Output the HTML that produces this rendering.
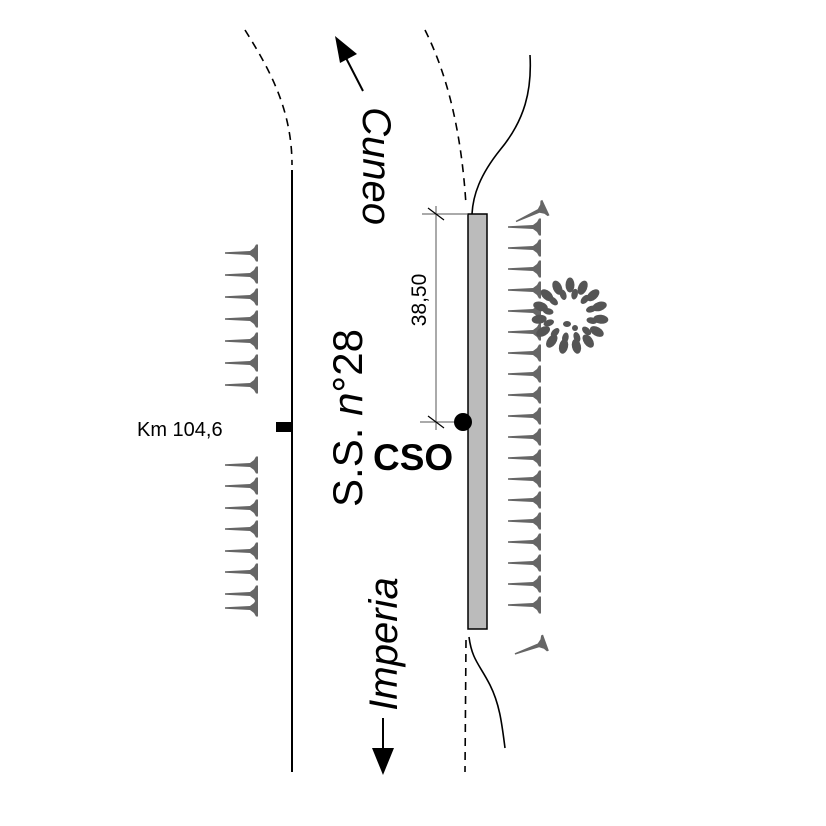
<!DOCTYPE html>
<html><head><style>body{margin:0;background:#fff}svg{display:block}</style></head><body>
<svg width="826" height="826" viewBox="0 0 826 826" xmlns="http://www.w3.org/2000/svg">
<defs>
<g id="t"><polygon points="-32,-0.7 -7,-2 -3,-5 -1,-8.5 1,-8.5 1,8.5 -1,8.5 -3,5 -7,2 -32,0.7" fill="#666"/></g>
<ellipse id="lf" cx="0" cy="-31" rx="4.5" ry="7.5" fill="#555"/>
</defs>
<path d="M245,30 C270,70 292,110 292,165" fill="none" stroke="#000" stroke-width="1.6" stroke-dasharray="8,6"/>
<line x1="292" y1="170" x2="292" y2="772" stroke="#000" stroke-width="2"/>
<path d="M425,30 C450,80 462,140 466,205" fill="none" stroke="#000" stroke-width="1.6" stroke-dasharray="8,6"/>
<line x1="466" y1="640" x2="465" y2="772" stroke="#000" stroke-width="1.6" stroke-dasharray="8,6"/>
<path d="M530,55 C532,90 525,120 500,150 C480,175 473,195 472,214" fill="none" stroke="#000" stroke-width="1.6"/>
<path d="M469,637 C472,660 480,665 490,685 C500,705 502,725 505,748" fill="none" stroke="#000" stroke-width="1.6"/>
<g>
<use href="#t" x="257" y="253"/><use href="#t" x="257" y="275"/><use href="#t" x="257" y="297"/><use href="#t" x="257" y="319"/><use href="#t" x="257" y="341"/><use href="#t" x="257" y="363"/><use href="#t" x="257" y="385"/>
<use href="#t" x="257" y="465"/><use href="#t" x="257" y="486"/><use href="#t" x="257" y="508"/><use href="#t" x="257" y="529"/><use href="#t" x="257" y="551"/><use href="#t" x="257" y="572"/><use href="#t" x="257" y="594"/><use href="#t" x="257" y="608"/>
</g>
<g>
<use href="#t" x="545" y="208" transform="rotate(-25 545 208)"/>
<use href="#t" x="540" y="227"/><use href="#t" x="540" y="248"/><use href="#t" x="540" y="269"/><use href="#t" x="540" y="290"/><use href="#t" x="540" y="311"/><use href="#t" x="540" y="332"/><use href="#t" x="540" y="353"/><use href="#t" x="540" y="374"/><use href="#t" x="540" y="395"/><use href="#t" x="540" y="416"/><use href="#t" x="540" y="437"/><use href="#t" x="540" y="458"/><use href="#t" x="540" y="479"/><use href="#t" x="540" y="500"/><use href="#t" x="540" y="521"/><use href="#t" x="540" y="542"/><use href="#t" x="540" y="563"/><use href="#t" x="540" y="584"/><use href="#t" x="540" y="605"/>
<use href="#t" x="545" y="643" transform="rotate(-20 545 643)"/>
</g>
<g transform="translate(570,316)">
<use href="#lf" transform="rotate(0)"/><use href="#lf" transform="rotate(24)"/><use href="#lf" transform="rotate(48)"/><use href="#lf" transform="rotate(72)"/><use href="#lf" transform="rotate(96)"/><use href="#lf" transform="rotate(120)"/><use href="#lf" transform="rotate(144)"/><use href="#lf" transform="rotate(168)"/><use href="#lf" transform="rotate(192)"/><use href="#lf" transform="rotate(216)"/><use href="#lf" transform="rotate(240)"/><use href="#lf" transform="rotate(264)"/><use href="#lf" transform="rotate(288)"/><use href="#lf" transform="rotate(312)"/><use href="#lf" transform="rotate(336)"/>
<g transform="scale(0.72) rotate(12)"><use href="#lf" transform="rotate(0)"/><use href="#lf" transform="rotate(30)"/><use href="#lf" transform="rotate(60)"/><use href="#lf" transform="rotate(90)"/><use href="#lf" transform="rotate(120)"/><use href="#lf" transform="rotate(150)"/><use href="#lf" transform="rotate(180)"/><use href="#lf" transform="rotate(210)"/><use href="#lf" transform="rotate(240)"/><use href="#lf" transform="rotate(270)"/><use href="#lf" transform="rotate(300)"/><use href="#lf" transform="rotate(330)"/></g>
<ellipse cx="-3" cy="8" rx="4" ry="3" fill="#555"/><ellipse cx="5" cy="12" rx="3" ry="3" fill="#555"/>
</g>
<rect x="468" y="214" width="19" height="415" fill="#bbb" stroke="#000" stroke-width="1.5"/>
<line x1="436" y1="206" x2="436" y2="430" stroke="#555" stroke-width="1"/>
<line x1="422" y1="214" x2="468" y2="214" stroke="#555" stroke-width="1"/>
<line x1="420" y1="422" x2="468" y2="422" stroke="#555" stroke-width="1"/>
<line x1="428" y1="208" x2="444" y2="220" stroke="#000" stroke-width="1.2"/>
<line x1="428" y1="416" x2="444" y2="428" stroke="#000" stroke-width="1.2"/>
<text transform="translate(426,300) rotate(-90)" text-anchor="middle" font-family="Liberation Sans" font-size="21" fill="#000">38,50</text>
<circle cx="463" cy="422" r="9" fill="#000"/>
<text x="373" y="470" font-family="Liberation Sans" font-weight="bold" font-size="37" fill="#000">CSO</text>
<text x="137" y="436" font-family="Liberation Sans" font-size="20" fill="#000">Km 104,6</text>
<rect x="276" y="422" width="16" height="10" fill="#000"/>
<text transform="translate(362,418) rotate(-90)" text-anchor="middle" font-family="Liberation Sans" font-size="42" fill="#000">S.S. <tspan font-style="italic">n</tspan>°28</text>
<text transform="translate(363,166) rotate(90)" text-anchor="middle" font-family="Liberation Sans" font-style="italic" font-size="40" fill="#000">Cuneo</text>
<text transform="translate(397,644) rotate(-90)" text-anchor="middle" font-family="Liberation Sans" font-style="italic" font-size="40" fill="#000">Imperia</text>
<line x1="363" y1="91" x2="346" y2="58" stroke="#000" stroke-width="2"/>
<polygon points="335,36 357,54 340,63" fill="#000"/>
<line x1="383" y1="718" x2="383" y2="755" stroke="#000" stroke-width="2"/>
<polygon points="372,748 394,748 383,775" fill="#000"/>
</svg>
</body></html>
